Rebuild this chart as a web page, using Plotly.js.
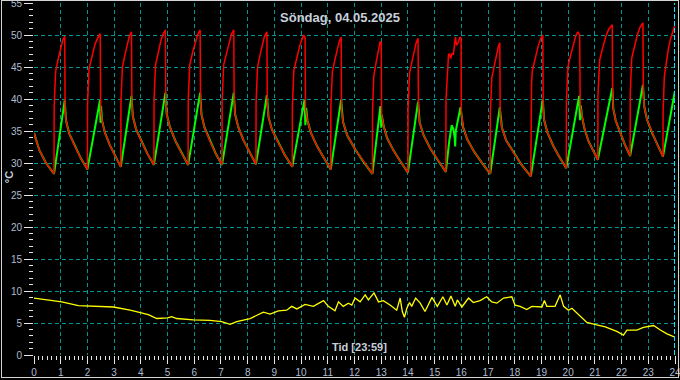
<!DOCTYPE html>
<html>
<head>
<meta charset="utf-8">
<script src="https://cdn.plot.ly/plotly-3.0.1.min.js"></script>
<style>
html,body{margin:0;padding:0;background:#000;}
#wrap{position:relative;width:680px;height:380px;overflow:hidden;}
#chart{position:absolute;left:0;top:0;width:680px;height:380px;}
#frame{position:absolute;left:1px;top:0;width:676px;height:376px;border:1px solid #d4d4d4;pointer-events:none;}
</style>
</head>
<body>
<div id="wrap"><div id="chart"></div><div id="frame"></div></div>
<script>
// Flow temperature (red)
const flowTime = [0,0.2,0.45,0.75,
0.755,0.81,0.91,1.0,1.07,1.15,1.165,1.2,1.32,1.53,1.745,2.0,
2.005,2.06,2.17,2.28,2.38,2.48,2.495,2.545,2.65,2.84,3.025,3.25,
3.255,3.31,3.41,3.5,3.57,3.65,3.665,3.7,3.82,4.03,4.24,4.49,
4.495,4.55,4.65,4.75,4.83,4.92,4.935,4.97,5.09,5.3,5.515,5.77,
5.775,5.83,5.94,6.05,6.13,6.22,6.235,6.27,6.38,6.59,6.79,7.04,
7.045,7.1,7.21,7.31,7.39,7.48,7.495,7.53,7.65,7.85,8.06,8.31,
8.315,8.37,8.47,8.56,8.63,8.72,8.735,8.78,8.91,9.15,9.385,9.67,
9.675,9.73,9.84,9.95,10.03,10.1,10.15,10.165,10.24,10.37,10.6,10.83,11.11,
11.115,11.17,11.27,11.36,11.43,11.5,11.515,11.57,11.73,12.03,12.32,12.67,
12.675,12.72,12.8,12.88,12.93,12.96,12.98,13.0,13.015,13.09,13.22,13.47,13.71,14.0,
14.005,14.06,14.16,14.25,14.31,14.38,14.395,14.44,14.59,14.85,15.11,15.42,
15.425,15.47,15.52,15.56,15.6,15.65,15.7,15.74,15.78,15.82,15.88,15.95,15.99,16.0,16.065,16.22,16.49,16.76,17.08,
17.085,17.14,17.24,17.32,17.38,17.44,17.455,17.52,17.68,17.97,18.26,18.6,
18.605,18.63,18.66,18.77,18.88,18.96,19.05,19.065,19.1,19.22,19.44,19.66,19.93,
19.935,19.99,20.1,20.2,20.28,20.36,20.43,20.45,20.52,20.61,20.76,20.92,21.11,
21.115,21.18,21.3,21.42,21.52,21.65,21.665,21.69,21.78,21.95,22.12,22.32,
22.325,22.38,22.49,22.6,22.69,22.8,22.815,22.85,22.95,23.14,23.33,23.55,
23.555,23.6,23.67,23.75,23.82,23.92,24.0];
const flowTemp = [34.7,32.0,30.0,28.3,
38.8,44.3,46.3,48.1,49.1,49.8,38.3,36.6,34.6,32.6,30.8,29.0,
39.2,44.7,46.7,48.5,49.5,50.2,38.3,36.7,34.8,32.8,31.2,29.4,
39.5,45.0,47.0,48.8,49.8,50.5,39.0,37.3,35.3,33.3,31.5,29.7,
39.8,45.3,47.3,49.1,50.1,50.8,39.5,37.6,35.6,33.4,31.6,29.7,
39.8,45.3,47.3,49.1,50.1,50.8,39.5,37.6,35.6,33.4,31.6,29.7,
39.8,45.3,47.3,49.1,50.1,50.8,39.5,37.6,35.6,33.5,31.7,29.8,
39.5,45.0,47.0,48.8,49.8,50.5,39.1,37.2,35.2,33.1,31.3,29.4,
39.0,44.5,46.5,48.3,49.3,50.0,49.6,38.4,36.6,34.7,32.6,30.9,29.0,
38.7,44.2,46.2,48.0,49.0,49.7,38.4,36.4,34.3,32.1,30.3,28.3,
38.0,43.5,45.5,47.3,48.5,49.0,48.4,49.0,37.5,35.8,33.9,31.9,30.3,28.5,
38.5,44.0,46.0,47.8,48.8,49.5,38.1,36.3,34.3,32.2,30.5,28.6,
39.8,43.0,46.9,47.1,46.3,47.1,47.0,48.3,49.7,48.4,48.8,49.7,49.5,38.0,35.6,33.7,31.7,30.1,28.3,
37.8,43.3,45.3,47.1,48.1,48.8,37.3,35.5,33.5,31.5,29.7,27.9,
34.4,42.6,44.5,46.5,48.3,49.3,50.0,38.6,36.7,34.8,32.7,31.0,29.2,
39.5,45.0,47.0,48.8,49.8,50.5,50.0,38.9,37.2,35.4,33.4,32.0,30.5,
40.6,46.1,48.1,49.9,50.9,51.6,40.2,38.5,36.6,34.6,32.9,31.1,
40.9,46.4,48.4,50.2,51.2,51.9,40.7,38.8,36.8,34.7,32.9,31.0,
38.0,43.5,45.8,47.8,49.2,50.6,51.6];

// Return temperature (green)
const returnTime = [0,0.2,0.45,0.75,
1.15,1.2,1.32,1.53,1.745,2.0,
2.47,2.49,2.51,2.545,2.65,2.84,3.025,3.25,
3.65,3.7,3.82,4.03,4.24,4.49,
4.92,4.97,5.09,5.3,5.515,5.77,
6.22,6.27,6.38,6.59,6.79,7.04,
7.48,7.53,7.65,7.85,8.06,8.31,
8.72,8.78,8.91,9.15,9.385,9.67,
10.13,10.16,10.19,10.24,10.37,10.6,10.83,11.11,
11.5,11.57,11.73,12.03,12.32,12.67,
12.97,13.0,13.02,13.09,13.22,13.47,13.71,14.0,
14.38,14.44,14.59,14.85,15.11,15.42,
15.55,15.64,15.7,15.75,15.77,15.79,15.97,16.065,16.22,16.49,16.76,17.08,
17.44,17.52,17.68,17.97,18.26,18.6,
19.05,19.1,19.22,19.44,19.66,19.93,
20.41,20.44,20.47,20.52,20.61,20.76,20.92,21.11,
21.65,21.69,21.78,21.95,22.12,22.32,
22.8,22.85,22.95,23.14,23.33,23.55,
24.0];
const returnTemp = [34.7,32.0,30.0,28.3,
39.8,36.6,34.6,32.6,30.8,29.0,
39.8,36.3,38.9,36.7,34.8,32.8,31.2,29.4,
40.5,37.3,35.3,33.3,31.5,29.7,
41.0,37.6,35.6,33.4,31.6,29.7,
41.0,37.6,35.6,33.4,31.6,29.7,
41.0,37.6,35.6,33.5,31.7,29.8,
40.6,37.2,35.2,33.1,31.3,29.4,
39.9,35.9,38.6,36.6,34.7,32.6,30.9,29.0,
39.9,36.4,34.3,32.1,30.3,28.3,
38.9,35.5,37.5,35.8,33.9,31.9,30.3,28.5,
39.6,36.3,34.3,32.2,30.5,28.6,
33.5,35.9,35.3,34.0,32.6,35.0,38.7,35.6,33.7,31.7,30.1,28.3,
38.7,35.5,33.5,31.5,29.7,27.9,
39.9,36.7,34.8,32.7,31.0,29.2,
40.5,36.7,39.0,37.2,35.4,33.4,32.0,30.5,
41.7,38.5,36.6,34.6,32.9,31.1,
42.2,38.8,36.8,34.7,32.9,31.0,
41.3];

// Outdoor temperature (yellow)
const outdoorTime = [0,0.6,1.04,1.66,2.2,2.97,3.6,4.28,4.6,5.0,5.16,5.34,5.97,6.59,7.03,7.34,7.59,8.09,8.59,8.84,9.15,9.46,9.65,9.84,10.15,10.46,10.84,11.02,11.27,11.4,11.58,11.77,11.9,12.02,12.21,12.4,12.52,12.73,12.9,13.08,13.33,13.58,13.71,13.79,13.87,13.96,14.06,14.14,14.29,14.46,14.64,14.9,15.1,15.31,15.46,15.61,15.77,15.85,16.02,16.27,16.45,16.7,16.95,17.14,17.33,17.58,17.89,18.01,18.2,18.45,18.64,18.83,19.02,19.11,19.2,19.51,19.7,19.83,20.01,20.14,20.45,20.7,21.07,21.39,21.82,22.07,22.2,22.57,22.82,23.2,23.45,23.7,24.0];
const outdoorTemp = [8.9,8.6,8.3,7.7,7.6,7.5,7.0,6.3,5.7,5.8,6.0,5.7,5.5,5.4,5.2,4.8,5.2,5.7,6.7,6.4,6.9,7.0,7.6,7.2,7.9,7.6,8.5,7.6,6.9,8.3,7.6,8.1,7.8,8.9,8.3,9.4,8.6,9.7,8.3,8.5,7.8,7.0,8.9,6.8,5.9,7.3,8.2,7.6,8.9,8.1,6.8,9.0,7.6,9.1,7.8,9.2,7.6,8.6,7.5,8.9,8.2,8.5,9.1,8.3,8.1,8.9,9.1,7.8,7.6,7.1,7.6,7.5,7.5,8.5,7.6,7.6,9.4,7.6,7.0,7.3,6.0,5.1,4.7,4.4,3.7,3.1,3.9,3.9,4.3,4.6,3.9,3.3,2.8];

const xTickVals = [0,1,2,3,4,5,6,7,8,9,10,11,12,13,14,15,16,17,18,19,20,21,22,23,24];
const yTickVals = [0,5,10,15,20,25,30,35,40,45,50,55];
const nowMarker = 24;

const labelFont = {family:'Liberation Sans, Arial, sans-serif', size:10, color:'#aebcd2'};
const tickCol = '#e6e6e6';
const gridCol = '#009696';
const textFont = {family:'Liberation Sans, Arial, sans-serif', size:11, weight:700, color:'#c8d0dc'};

const traces = [
  {x:outdoorTime, y:outdoorTemp, type:'scatter', mode:'lines', line:{color:'#ffff00', width:1.3}, hoverinfo:'skip'},
  {x:returnTime, y:returnTemp, type:'scatter', mode:'lines', line:{color:'#00ff00', width:2}, hoverinfo:'skip'},
  {x:flowTime, y:flowTemp, type:'scatter', mode:'lines', line:{color:'#ff0000', width:1.5}, hoverinfo:'skip'}
];

const layout = {
  width:680, height:380,
  paper_bgcolor:'#000', plot_bgcolor:'#000',
  margin:{l:34, r:5, t:3, b:25},
  showlegend:false,
  title:{text:'Söndag, 04.05.2025', x:0.5, xref:'container', xanchor:'center',
         y:1-17/380, yref:'container', yanchor:'middle',
         font:{family:'Liberation Sans, Arial, sans-serif', size:13, weight:700, color:'#c8d0dc'}},
  xaxis:{range:[0,24], tickmode:'array', tickvals:xTickVals, ticktext:xTickVals.map(String),
         ticks:'outside', ticklen:8, tickwidth:1, tickcolor:tickCol, ticklabeloverflow:'allow',
         showgrid:true, gridcolor:gridCol, gridwidth:1, griddash:'4px,3px',
         zeroline:false, showline:false, tickfont:labelFont, fixedrange:true,
         minor:{dtick:1/6, tick0:0, ticks:'outside', ticklen:4, tickwidth:1, tickcolor:tickCol, showgrid:false}},
  yaxis:{range:[0,55], tickmode:'array', tickvals:yTickVals, ticktext:yTickVals.map(String),
         ticks:'outside', ticklen:9, tickwidth:1, tickcolor:tickCol, ticklabeloverflow:'allow',
         showgrid:true, gridcolor:gridCol, gridwidth:1, griddash:'4px,3px',
         zeroline:false, showline:false, tickfont:labelFont, fixedrange:true,
         minor:{dtick:1, tick0:0, ticks:'outside', ticklen:4, tickwidth:1, tickcolor:tickCol, showgrid:false}},
  annotations:[
    {text:'Tid [23:59]', xref:'paper', yref:'paper', x:0.508, y:0, xanchor:'center', yanchor:'bottom', showarrow:false, font:textFont},
    {text:'°C', xref:'paper', yref:'paper', x:-0.039, y:0.505, xanchor:'center', yanchor:'middle', textangle:-90, showarrow:false, font:textFont}
  ],
  shapes:[{type:'line', xref:'x', yref:'paper', x0:nowMarker, x1:nowMarker, y0:0, y1:1,
           line:{color:'#00e8ff', width:2, dash:'5px,2px'}}]
};

Plotly.newPlot('chart', traces, layout, {staticPlot:true, displayModeBar:false});
</script>
</body>
</html>
